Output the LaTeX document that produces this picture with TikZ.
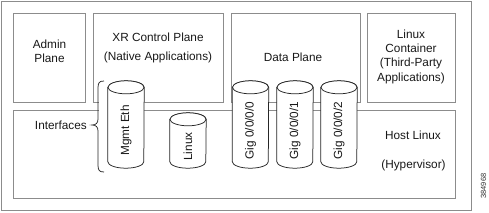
\documentclass[tikz,border=0pt]{standalone}
\usepackage{fontspec}
\setmainfont{Liberation Sans}
\begin{document}
\begin{tikzpicture}[x=1pt,y=1pt,
  boxline/.style={draw=black!45, line width=0.9pt},
  plane/.style={boxline, rectangle, inner sep=0pt},
  lbl/.style={font=\fontsize{11.8}{14.3}\selectfont, align=center, inner sep=0pt, text=black!90},
  cylline/.style={draw=black!85, line width=0.75pt, fill=white},
  cylbody/.style={rectangle, minimum width=36pt, inner sep=0pt},
  cyltext/.style={lbl, rotate=90},
  bracestyle/.style={draw=black!85, line width=0.75pt}]
\useasboundingbox (0,0) rectangle (489,-212);
\fill[white] (0,0) rectangle (489,-212);
% frames
\node[plane, minimum width=470pt, minimum height=209pt] (outer) at (236,-105.5) {};
\node[plane, minimum width=72pt, minimum height=89pt] (admin) at (49,-57.5) {};
\node[plane, minimum width=130pt, minimum height=89pt] (xr) at (158,-57.5) {};
\node[plane, minimum width=129pt, minimum height=89pt] (data) at (295.5,-57.5) {};
\node[plane, minimum width=88pt, minimum height=89pt] (lxc) at (411,-57.5) {};
\node[plane, minimum width=442pt, minimum height=88pt] (host) at (234,-154) {};
% brace region
\fill[white] (98.5,-81) rectangle (126,-172);
\coordinate (btop) at (104,-81);
\coordinate (bpt) at (92,-125);
\coordinate (bbot) at (104,-172);
\draw[bracestyle] (btop) .. controls (99,-81) and (98,-83) .. (98,-88) -- (98,-119)
  .. controls (98,-123) and (96,-125) .. (bpt)
  .. controls (96,-125) and (98,-127) .. (98,-131) -- (98,-165)
  .. controls (98,-170) and (99,-172) .. (bbot);
% cylinders
\node[cylbody, minimum height=74pt] (mg) at (126,-124.5) {};
\node[cylbody, minimum height=42pt] (lx) at (188,-140.5) {};
\node[cylbody, minimum height=74pt] (g0) at (250.5,-124.5) {};
\node[cylbody, minimum height=74pt] (g1) at (295,-124.5) {};
\node[cylbody, minimum height=74pt] (g2) at (339,-124.5) {};
\foreach \c in {mg,lx,g0,g1,g2}{
  \draw[cylline] (\c.north west) -- (\c.south west)
    arc[start angle=180, end angle=360, x radius=18pt, y radius=6.5pt]
    -- (\c.north east)
    arc[start angle=0, end angle=180, x radius=18pt, y radius=6.5pt] -- cycle;
  \draw[cylline] (\c.north) ellipse[x radius=18pt, y radius=6.5pt];
}
\node[cyltext] (mgt) at ([yshift=-6pt]mg.center) {Mgmt Eth};
\node[cyltext] (lxt) at ([yshift=-6pt]lx.center) {Linux};
\node[cyltext] (g0t) at ([yshift=-6pt]g0.center) {Gig 0/0/0/0};
\node[cyltext] (g1t) at ([yshift=-6pt]g1.center) {Gig 0/0/0/1};
\node[cyltext] (g2t) at ([yshift=-6pt]g2.center) {Gig 0/0/0/2};
% labels
\node[lbl] (admint) at (49.5,-51) {Admin\\Plane};
\node[lbl] (xrt1) at (158,-37) {XR Control Plane};
\node[lbl] (xrt2) at (158,-57) {(Native Applications)};
\node[lbl] (datat) at (293,-57) {Data Plane};
\node[lbl] (lxct) at (411,-56.5) {Linux\\Container\\(Third-Party\\Applications)};
\node[lbl, anchor=east] (ift) at (87,-125.5) {Interfaces};
\node[lbl] (hostt1) at (413,-135) {Host Linux};
\node[lbl] (hostt2) at (413.5,-165) {(Hypervisor)};
\node[font=\fontsize{7.5}{8}\selectfont, rotate=90, inner sep=0pt, text=black!80] (num) at (483.5,-186) {384968};
\end{tikzpicture}
\end{document}
